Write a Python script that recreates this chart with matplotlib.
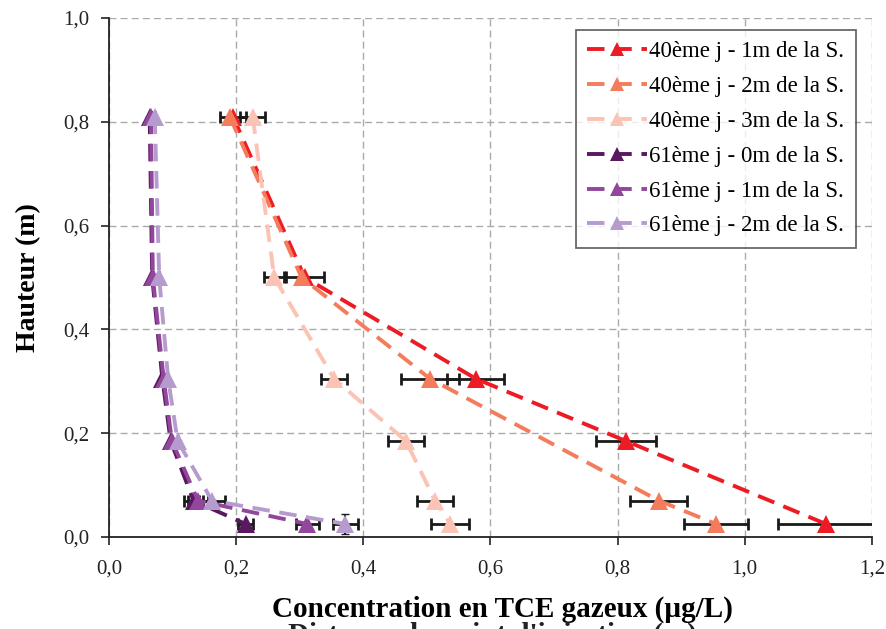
import matplotlib
matplotlib.use("Agg")
import matplotlib.pyplot as plt
from matplotlib.ticker import FuncFormatter, MultipleLocator

plt.rcParams['font.family'] = ['Liberation Serif', 'DejaVu Serif']

heights = [0.81, 0.50, 0.305, 0.185, 0.07, 0.025]

labels = [
    "40ème j - 1m de la S.",
    "40ème j - 2m de la S.",
    "40ème j - 3m de la S.",
    "61ème j - 0m de la S.",
    "61ème j - 1m de la S.",
    "61ème j - 2m de la S.",
]
colors = ["#ED1C24", "#F47C5C", "#FAC3B4", "#5A1860", "#93479C", "#B69BCE"]

# (height, concentration) pairs for each series
h_40_1 = [0.81, 0.50, 0.305, 0.185, 0.025]
c_40_1 = [0.195, 0.308, 0.577, 0.813, 1.128]
e_40_1 = [0.02, 0.03, 0.045, 0.047, 0.075]

h_40_2 = [0.81, 0.50, 0.305, 0.07, 0.025]
c_40_2 = [0.19, 0.303, 0.505, 0.865, 0.955]
e_40_2 = [0.0, 0.0, 0.045, 0.045, 0.05]

h_40_3 = [0.81, 0.50, 0.305, 0.185, 0.07, 0.025]
c_40_3 = [0.226, 0.26, 0.354, 0.467, 0.513, 0.537]
e_40_3 = [0.02, 0.016, 0.02, 0.028, 0.028, 0.03]

c_61_0 = [0.064, 0.068, 0.084, 0.097, 0.133, 0.215]
e_61_0 = [0.0, 0.0, 0.0, 0.0, 0.015, 0.012]
c_61_1 = [0.066, 0.069, 0.086, 0.099, 0.14, 0.312]
e_61_1 = [0.0, 0.0, 0.0, 0.0, 0.015, 0.018]
c_61_2 = [0.072, 0.079, 0.093, 0.108, 0.162, 0.372]
e_61_2 = [0.0, 0.0, 0.0, 0.0, 0.02, 0.02]

series = [
    (c_40_1, h_40_1, e_40_1),
    (c_40_2, h_40_2, e_40_2),
    (c_40_3, h_40_3, e_40_3),
    (c_61_0, heights, e_61_0),
    (c_61_1, heights, e_61_1),
    (c_61_2, heights, e_61_2),
]

fig = plt.figure(figsize=(8.86, 6.29), dpi=100)
ax = fig.add_axes([0.123, 0.1463, 0.861, 0.8251])

for (c, h, e), lab, col in zip(series, labels, colors):
    ax.errorbar(c, h, xerr=e, fmt='none', ecolor='#1a1a1a', elinewidth=2,
                capsize=4, capthick=2, zorder=2)
    ax.plot(c, h, color=col, linestyle=(0, (4.5, 2.5)), linewidth=2.8,
            marker='^', markersize=13, markeredgewidth=0, label=lab, zorder=3)

# small vertical bar on the last 61j-2m point
ax.errorbar([c_61_2[-1]], [heights[-1]], yerr=[0.02], fmt='none',
            ecolor='#1a1a1a', elinewidth=1.5, capsize=3, zorder=2)

ax.set_xlim(0, 1.2)
ax.set_ylim(0, 1.0)
ax.xaxis.set_major_locator(MultipleLocator(0.2))
ax.yaxis.set_major_locator(MultipleLocator(0.2))
fmt = FuncFormatter(lambda v, p: f"{v:.1f}".replace(".", ","))
ax.xaxis.set_major_formatter(fmt)
ax.yaxis.set_major_formatter(fmt)
ax.tick_params(labelsize=15, direction='out', length=6, width=1.2, colors='#222222')
ax.tick_params(axis='x', pad=10)
ax.tick_params(axis='y', pad=8)

ax.grid(True, color='#aaaaaa', linestyle=(0, (5, 3)), linewidth=1)
ax.set_axisbelow(True)
for s in ['top', 'right']:
    ax.spines[s].set_visible(False)
for s in ['left', 'bottom']:
    ax.spines[s].set_linewidth(1.3)
    ax.spines[s].set_color('#222222')

ax.set_ylabel("Hauteur (m)", fontsize=20, fontweight='bold', labelpad=16)
ax.set_xlabel("Concentration en TCE gazeux (µg/L)", fontsize=21,
              fontweight='bold')
ax.xaxis.set_label_coords(0.516, -0.113)

# leftover label mostly hidden below the figure edge
fig.text(0.556, 0.012, "Distance du point d'injection (m)", fontsize=21,
         fontweight='bold', ha='center', va='top', color='#222222', zorder=0)

leg = ax.legend(loc='upper right', bbox_to_anchor=(0.979, 0.977), fontsize=16.5,
                frameon=True, fancybox=False, edgecolor='#333333',
                handlelength=2.6, handletextpad=0.1, borderpad=0.5,
                labelspacing=0.6, markerscale=0.8, borderaxespad=0)
leg.get_frame().set_linewidth(1.2)

fig.savefig("out.png", dpi=100)
